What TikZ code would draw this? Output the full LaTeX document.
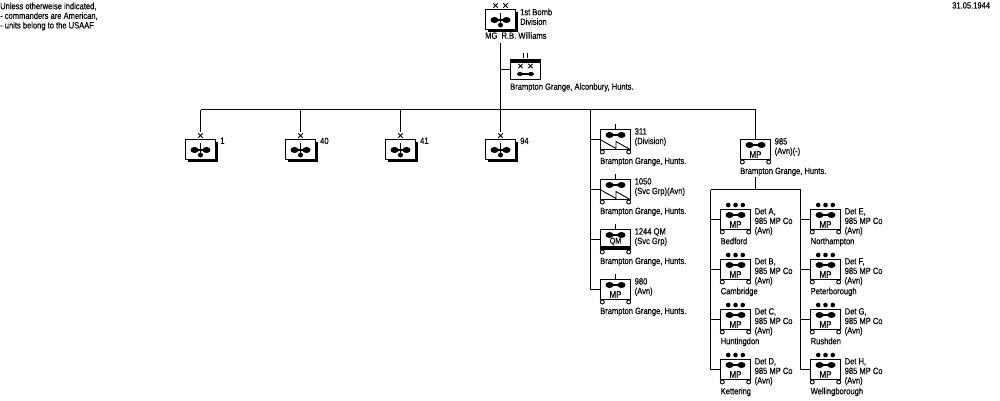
\documentclass[tikz,border=0pt]{standalone}
\usepackage{fontspec}
\usepackage{tikz}
\usetikzlibrary{shadows}
\newfontfamily\orbatfont[FakeStretch=0.84,FakeBold=0.25]{Liberation Sans}
\tikzset{
  txt/.style={inner sep=0pt,anchor=north west,align=left,font=\orbatfont\fontsize{9}{9.6}\selectfont},
  unitbox/.style={draw=black,fill=white,line width=1pt,minimum width=30pt,minimum height=20pt,inner sep=0pt},
  shadowbox/.style={unitbox,general shadow={shadow xshift=2pt,shadow yshift=-2pt,fill=black}},
  boxtxt/.style={inner sep=0pt,font=\orbatfont\fontsize{9.5}{9.5}\selectfont},
  wheel/.style={draw=black,fill=white,line width=0.9pt},
  conn/.style={line width=1pt}
}
% dumbbell sign of an air unit, centred on a node with a y offset
\newcommand{\dumbbell}[2]{%
  \fill ([shift={(-6,#2)}]#1.center) ellipse (4 and 3);
  \fill ([shift={(6,#2)}]#1.center) ellipse (4 and 3);
  \draw[line width=1.6pt] ([shift={(-6,#2)}]#1.center) -- ([shift={(6,#2)}]#1.center);
}
% same sign with the mast and lower ball of a flying formation
\newcommand{\wingsign}[1]{%
  \dumbbell{#1}{0.5}
  \draw[line width=1pt] ([shift={(0,-7)}]#1.center) -- ([shift={(0,7.5)}]#1.center);
  \fill ([shift={(0,5.5)}]#1.center) circle (2.5);
}
\newcommand{\wheels}[1]{%
  \draw[wheel] ([shift={(-13.2,12.5)}]#1.center) circle (2);
  \draw[wheel] ([shift={(13.2,12.5)}]#1.center) circle (2);
}
\newcommand{\crossmark}[1]{%
  \draw[line width=0.8pt] ([shift={(-2.2,-2.2)}]#1) -- ([shift={(2.2,2.2)}]#1)
    ([shift={(-2.2,2.2)}]#1) -- ([shift={(2.2,-2.2)}]#1);
}
\newcommand{\tick}[1]{\draw[conn] ([shift={(0,-15.5)}]#1.center) -- ([shift={(0,-10)}]#1.center);}
\begin{document}
\begin{tikzpicture}[x=1pt,y=-1pt]
  \path[fill=white,use as bounding box] (0,0) rectangle (1000,400);

  \node[txt] (note) at (0,2.5) {Unless otherweise indicated,\\- commanders are American,\\- units belong to the USAAF};
  \node[txt] (date) at (952,2) {31.05.1944};

  % division and its headquarters
  \node[shadowbox] (div) at (500.5,19.5) {};
  \wingsign{div}
  \crossmark{495.5,5.5}
  \crossmark{505.5,5.5}
  \node[txt] (divname) at (520,8.5) {1st Bomb\\Division};
  \node[txt] (divcmd) at (485,32) {MG\ \ R.B. Williams};

  \node[unitbox] (hq) at (525.5,69.5) {};
  \fill ([shift={(-15,-10)}]hq.center) rectangle ([shift={(15,-6.5)}]hq.center);
  \fill ([shift={(-5.5,4.5)}]hq.center) ellipse (3 and 2);
  \fill ([shift={(5.5,4.5)}]hq.center) ellipse (3 and 2);
  \draw[line width=1.2pt] ([shift={(-5.5,4.5)}]hq.center) -- ([shift={(5.5,4.5)}]hq.center);
  \crossmark{520.5,66}
  \crossmark{530.5,66}
  \draw[conn] (523.5,53) -- (523.5,58) (527.5,53) -- (527.5,58);
  \node[txt] (hqloc) at (510,83) {Brampton Grange, Alconbury, Hunts.};

  \coordinate (top) at (500.5,43);
  \coordinate (bus) at (500.5,109.5);
  \coordinate (busleft) at (200.5,109.5);
  \coordinate (busright) at (755.5,109.5);
  \draw[conn] (top) -- (bus);
  \draw[conn] (busleft) -- (busright);
  \draw[conn] (top) |- (hq.west);

  % bomb wings
  \foreach \xx/\num in {200.5/1,300.5/40,400.5/41,500.5/94} {
    \node[shadowbox] (wing\num) at (\xx,149.5) {};
    \wingsign{wing\num}
    \crossmark{\xx,135.5}
    \coordinate (wingtop\num) at (\xx,109.5);
    \coordinate (wingx\num) at (\xx,132);
    \draw[conn] (wingtop\num) -- (wingx\num);
    \node[txt] (winglabel\num) at ([shift={(19.5,-12)}]wing\num.center) {\num};
  }

  % service units down the arm at x=590
  \coordinate (armtop) at (590.5,109.5);
  \node[unitbox] (bn311) at (615.5,139.5) {};
  \node[unitbox] (bn1050) at (615.5,189.5) {};
  \node[unitbox] (bn1244) at (615.5,239.5) {};
  \node[unitbox] (bn980) at (615.5,289.5) {};
  \foreach \name in {311,1050} {
    \draw[line width=0.9pt] (bn\name.west) -- ([shift={(0.5,9)}]bn\name.center) -- ([shift={(0.5,2)}]bn\name.center) -- (bn\name.south east);
  }
  \fill ([shift={(-15,6.5)}]bn1244.center) rectangle ([shift={(15,10)}]bn1244.center);
  \node[boxtxt,font=\orbatfont\fontsize{8.5}{8.5}\selectfont] (qm) at ([shift={(0,2)}]bn1244.center) {QM};
  \node[boxtxt] (mp980) at ([shift={(0,5)}]bn980.center) {MP};
  \foreach \name/\first/\second in {311/311/(Division),1050/1050/(Svc Grp)(Avn),1244/1244 QM/(Svc Grp),980/980/(Avn)} {
    \dumbbell{bn\name}{-4.5}
    \wheels{bn\name}
    \tick{bn\name}
    \draw[conn] (armtop) |- (bn\name.west);
    \node[txt] (lab\name) at ([shift={(19,-11.5)}]bn\name.center) {\first\\\second};
    \node[txt] (loc\name) at ([shift={(-15.5,18)}]bn\name.center) {Brampton Grange, Hunts.};
  }

  % military police company
  \node[unitbox] (co985) at (755.5,149.5) {};
  \dumbbell{co985}{-4.5}
  \wheels{co985}
  \tick{co985}
  \node[boxtxt] (mp985) at ([shift={(0,5)}]co985.center) {MP};
  \node[txt] (lab985) at ([shift={(19,-11.5)}]co985.center) {985\\(Avn)(-)};
  \node[txt] (loc985) at ([shift={(-15.5,18)}]co985.center) {Brampton Grange, Hunts.};
  \draw[conn] (busright) -- ([shift={(0,-15.5)}]co985.center);
  \coordinate (detstem) at (755.5,177);
  \coordinate (detbus) at (755.5,189.5);
  \coordinate (detleft) at (710.5,189.5);
  \coordinate (detright) at (800.5,189.5);
  \draw[conn] (detstem) -- (detbus);
  \draw[conn] (detleft) -- (detright);

  % detachments, two columns
  \foreach \det/\town/\yy/\xx/\arm in {
      A/Bedford/219.5/735.5/detleft,B/Cambridge/269.5/735.5/detleft,
      C/Huntingdon/319.5/735.5/detleft,D/Kettering/369.5/735.5/detleft,
      E/Northampton/219.5/825.5/detright,F/Peterborough/269.5/825.5/detright,
      G/Rushden/319.5/825.5/detright,H/Wellingborough/369.5/825.5/detright} {
    \node[unitbox] (det\det) at (\xx,\yy) {};
    \dumbbell{det\det}{-4.5}
    \wheels{det\det}
    \foreach \dx in {-7.3,0,7.3} {
      \fill ([shift={(\dx,-14.5)}]det\det.center) circle (2.3);
    }
    \node[boxtxt] (mp\det) at ([shift={(0,5)}]det\det.center) {MP};
    \draw[conn] (\arm) |- (det\det.west);
    \node[txt] (lab\det) at ([shift={(19,-11.5)}]det\det.center) {Det \det,\\985 MP Co\\(Avn)};
    \node[txt] (loc\det) at ([shift={(-15,18)}]det\det.center) {\town};
  }
\end{tikzpicture}
\end{document}
